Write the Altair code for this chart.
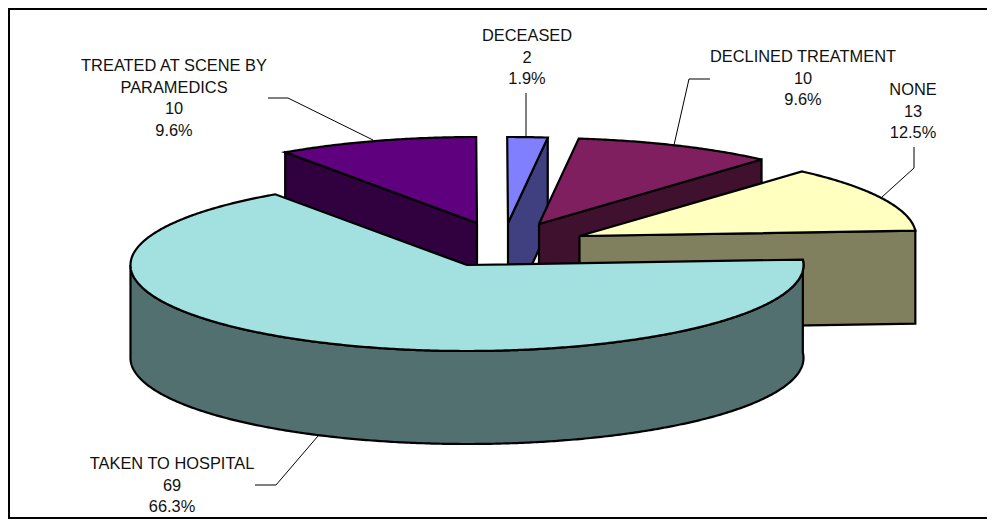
import math
import altair as alt
import pandas as pd

# chart values
categories = ["TAKEN TO HOSPITAL", "TREATED AT SCENE BY\nPARAMEDICS", "DECEASED", "DECLINED TREATMENT", "NONE"]
counts = [69, 10, 2, 10, 13]
top_colors = ["#A3E0E0", "#5F007F", "#8080FF", "#7F1F5F", "#FFFFC0"]
side_colors = ["#527070", "#30003F", "#404080", "#40102F", "#80805F"]

# layout of the exploded 3D pie, in page pixels
RX, RY, DEPTH = 336.5, 86, 93
START_ANGLE = -3.6
apexes = [(467, 265), (477, 223), (508, 223), (539, 224), (579.5, 236)]
label_pos = [(172, 464), (174, 66), (527, 36), (803, 57), (913, 90)]
leaders = [
    [(255, 485), (276, 485), (318, 436)],
    [(268, 98), (288, 98), (373, 140)],
    [(526, 93), (526, 137)],
    [(710, 79), (689, 79), (674, 145)],
    [(914, 147), (914, 168), (882, 197)],
]
LINE_STEP = 21.7
W, H = 979, 511

x_scale = alt.Scale(domain=[8, 8 + W], range=[0, W], nice=False, zero=False)
y_scale = alt.Scale(domain=[8, 8 + H], range=[0, H], nice=False, zero=False)
X = alt.X("x:Q", scale=x_scale, axis=None)
Y = alt.Y("y:Q", scale=y_scale, axis=None)


def arc(apex, a0, a1):
    n = max(2, int(abs(a1 - a0) * 2))
    pts = []
    for i in range(n + 1):
        t = math.radians(a0 + (a1 - a0) * i / n)
        pts.append((apex[0] + RX * math.cos(t), apex[1] + RY * math.sin(t)))
    return pts


def polygon(pts, fill):
    pts = list(pts) + [pts[0]]
    df = pd.DataFrame({"x": [p[0] for p in pts], "y": [p[1] for p in pts], "i": range(len(pts))})
    return alt.Chart(df).mark_line(
        fill=fill, stroke="black", strokeWidth=2.2, strokeJoin="miter", strokeMiterLimit=4
    ).encode(x=X, y=Y, order="i:Q")


total = sum(counts)
spans = []
angle = START_ANGLE
for c in counts:
    spans.append((angle, angle + 360 * c / total))
    angle += 360 * c / total

layers = []
# back slices first, the big front slice last
for idx in [1, 2, 3, 4, 0]:
    a0, a1 = spans[idx]
    apex = apexes[idx]
    if idx == 0:
        edge = arc(apex, a0, 180)
        wall = edge + [(p[0], p[1] + DEPTH) for p in reversed(edge)]
    else:
        # the radial face turned to the viewer
        e = arc(apex, a0 if idx == 1 else a1, a0 if idx == 1 else a1)[0]
        wall = [apex, e, (e[0], e[1] + DEPTH), (apex[0], apex[1] + DEPTH)]
    layers.append(polygon(wall, side_colors[idx]))
    layers.append(polygon([apex] + arc(apex, a0, a1), top_colors[idx]))

# leader lines
for li in leaders:
    df = pd.DataFrame({"x": [p[0] for p in li], "y": [p[1] for p in li], "i": range(len(li))})
    layers.append(alt.Chart(df).mark_line(color="black", strokeWidth=1).encode(x=X, y=Y, order="i:Q"))

# labels
rows = []
for name, c, pos in zip(categories, counts, label_pos):
    lines = name.split("\n") + [str(c), f"{100 * c / total:.1f}%"]
    for j, t in enumerate(lines):
        rows.append({"x": pos[0], "y": pos[1] + j * LINE_STEP, "t": t})
layers.append(
    alt.Chart(pd.DataFrame(rows))
    .mark_text(font="Liberation Sans", fontSize=16.4, color="#111111", align="center", baseline="middle")
    .encode(x=X, y=Y, text="t:N")
)

# chart frame
frame_rows = [
    {"x": 8, "x2": 8 + W, "y": 9, "y2": 9, "w": 2},
    {"x": 8, "x2": 8, "y": 8, "y2": 8 + H, "w": 4},
    {"x": 8, "x2": 8 + W, "y": 7 + H, "y2": 7 + H, "w": 2},
]
for r in frame_rows:
    layers.append(
        alt.Chart(pd.DataFrame([r])).mark_rule(color="black", strokeWidth=r["w"]).encode(
            x=alt.X("x:Q", scale=x_scale, axis=None),
            x2="x2:Q",
            y=alt.Y("y:Q", scale=y_scale, axis=None),
            y2="y2:Q",
        )
    )

chart = (
    alt.layer(*layers)
    .properties(width=W, height=H, padding=0, background="white", autosize=alt.AutoSizeParams(type="none"))
    .configure_view(stroke=None)
)
chart.save("out.html", embed_options={"renderer": "svg", "actions": False})
